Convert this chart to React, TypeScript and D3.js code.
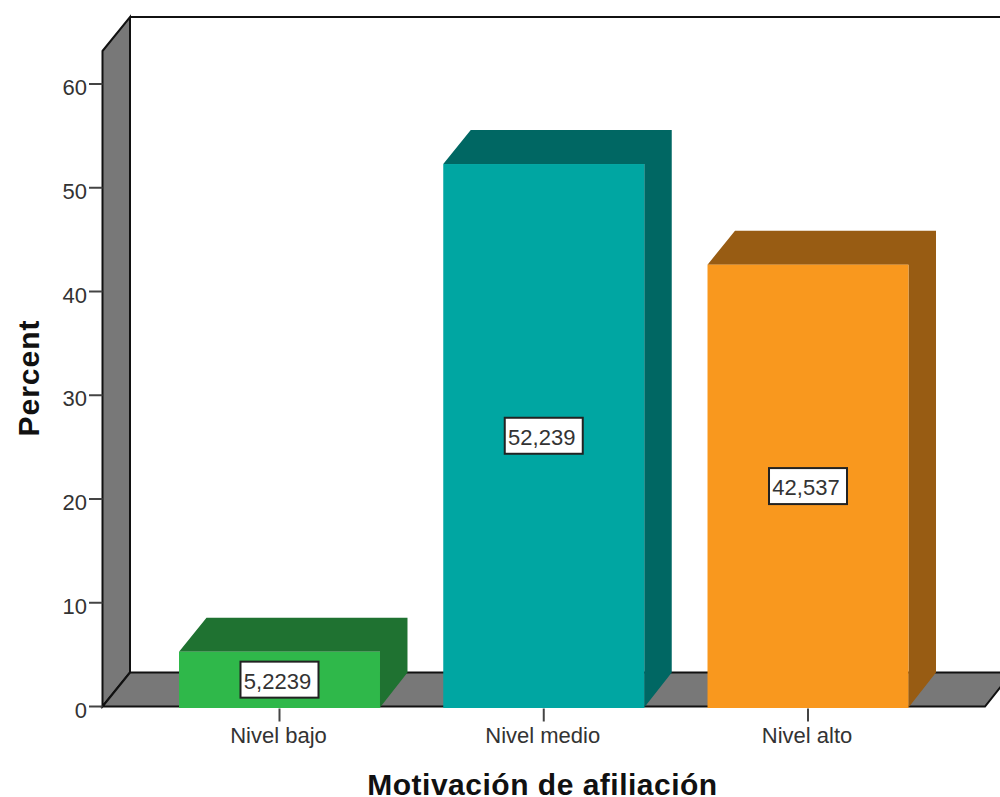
import React from "react";
import * as d3 from "d3";

const categories = ["Nivel bajo", "Nivel medio", "Nivel alto"];
const percents = [5.2239, 52.239, 42.537];
const valueLabels = ["5,2239", "52,239", "42,537"];
const frontColors = ["#2fb84a", "#00a6a2", "#f9981e"];
const sideColors = ["#1f7231", "#006763", "#985c13"];
const yTicks = [0, 10, 20, 30, 40, 50, 60];

const WIDTH = 1000;
const HEIGHT = 797;
const FONT = "'Liberation Sans', Arial, sans-serif";

// Oblique offset of the 3D extrusion
const DX = 27.5;
const DY = 34;

const y = d3.scaleLinear().domain([0, 60]).range([706.5, 84]);
const x = d3.scaleBand<string>()
  .domain(categories)
  .range([179, 908.5])
  .paddingInner(0.2394)
  .paddingOuter(0);

const LEFT = 102.5;
const FLOOR_RIGHT = 985;
const TOP_BACK = 17;
const TOP_FRONT = TOP_BACK + DY;

const pts = (p: [number, number][]) => p.map((d) => d.join(",")).join(" ");

export default function App() {
  const base = y(0);
  const backLeft = LEFT + DX;
  const backFloor = base - DY;

  return (
    <svg
      width={WIDTH}
      height={HEIGHT}
      viewBox={`0 0 ${WIDTH} ${HEIGHT}`}
      style={{ position: "absolute", left: 0, top: 0, background: "#fff" }}
      fontFamily={FONT}
    >
      {/* Side wall */}
      <polygon
        points={pts([[LEFT, TOP_FRONT], [backLeft, TOP_BACK], [backLeft, backFloor], [LEFT, base]])}
        fill="#787878"
        stroke="#111"
        strokeWidth={2}
      />
      {/* Floor */}
      <polygon
        points={pts([[LEFT, base], [backLeft, backFloor], [1012, backFloor], [FLOOR_RIGHT, base]])}
        fill="#787878"
        stroke="#111"
        strokeWidth={2}
      />
      {/* Back wall top edge */}
      <line x1={backLeft} x2={WIDTH} y1={TOP_BACK} y2={TOP_BACK} stroke="#111" strokeWidth={2} />

      {/* Value axis */}
      {yTicks.map((t) => (
        <g key={t} transform={`translate(0,${y(t)})`}>
          <line x1={89} x2={LEFT} stroke="#444" strokeWidth={2} />
          <text x={87} y={11} textAnchor="end" fontSize={22} fill="#333">
            {t}
          </text>
        </g>
      ))}

      {/* Extruded bars */}
      {categories.map((c, i) => {
        const x0 = x(c)!;
        const x1 = x0 + x.bandwidth();
        const top = y(percents[i]) - 0.5;
        const cx = x0 + x.bandwidth() / 2;
        const cy = (top + base + 1) / 2;
        const boxW = 78;
        return (
          <g key={c}>
            <polygon
              points={pts([[x0, top], [x0 + DX, top - DY], [x1 + DX, top - DY], [x1 + DX, base - DY], [x1, base + 1], [x1, top]])}
              fill={sideColors[i]}
            />
            <rect x={x0} y={top} width={x.bandwidth()} height={base + 1.5 - top} fill={frontColors[i]} />
            <rect x={cx - boxW / 2} y={cy - 18} width={boxW} height={36} fill="#fff" stroke="#222" strokeWidth={2} />
            <text x={cx - 2} y={cy + 9} textAnchor="middle" fontSize={22} fill="#333">
              {valueLabels[i]}
            </text>
            <line x1={cx} x2={cx} y1={base + 2} y2={base + 15} stroke="#444" strokeWidth={2} />
            <text x={cx - 1} y={743} textAnchor="middle" fontSize={22} fill="#333">
              {c}
            </text>
          </g>
        );
      })}

      {/* Axis titles */}
      <text x={542.5} y={795} textAnchor="middle" fontSize={30} fontWeight="bold" fill="#111" letterSpacing={0.5}>
        Motivación de afiliación
      </text>
      <text transform="translate(38.5,378) rotate(-90)" textAnchor="middle" fontSize={30} fontWeight="bold" fill="#111" letterSpacing={1}>
        Percent
      </text>
    </svg>
  );
}
